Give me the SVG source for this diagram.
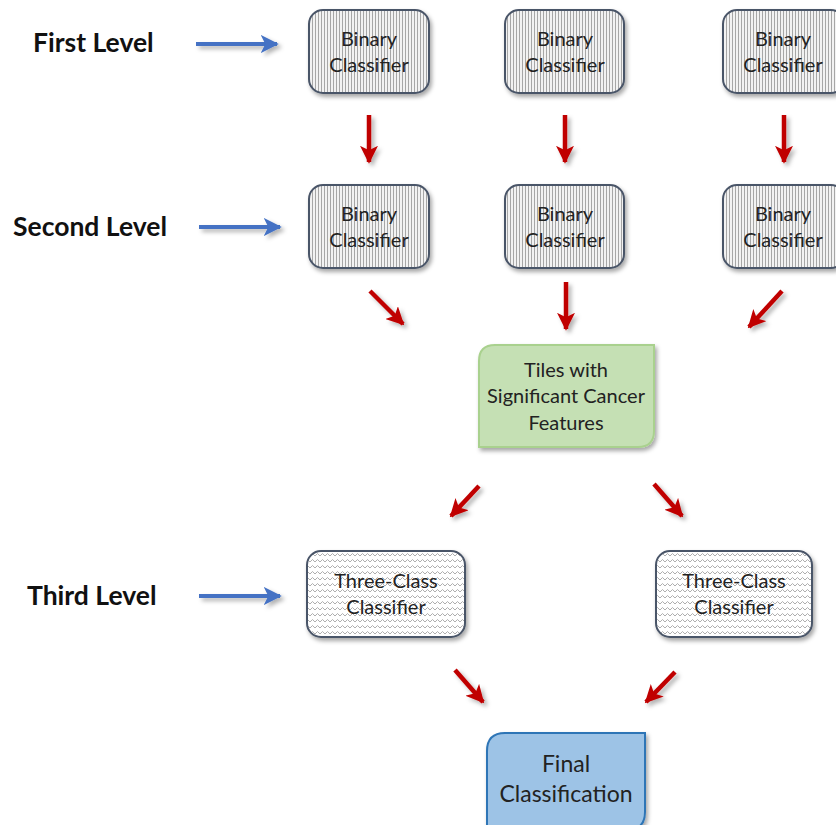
<svg xmlns="http://www.w3.org/2000/svg" width="836" height="825" viewBox="0 0 836 825">
  <style>
    .lvl { font-family: Lato, "Open Sans", "Liberation Sans", sans-serif; font-weight: bold; font-size: 26.5px; fill: #111; }
    .lbl { font-family: Lato, "Open Sans", "Liberation Sans", sans-serif; font-size: 20px; fill: #222; text-anchor: middle; }
    .big { font-size: 23px; }
    .bin { fill: url(#vlines); stroke: #4a5568; stroke-width: 2; filter: url(#shadow); }
    .tri { fill: url(#waves); stroke: #4a5568; stroke-width: 2; filter: url(#shadow); }
    .red { stroke: #c00000; stroke-width: 4.5; fill: none; marker-end: url(#redhead); filter: url(#ashadow); }
    .blue { stroke: #4472c4; stroke-width: 4; fill: none; marker-end: url(#bluehead); filter: url(#ashadow); }
  </style>
  <defs>
    <pattern id="vlines" width="3" height="10" patternUnits="userSpaceOnUse">
      <rect width="3" height="10" fill="#f2f2f2"/>
      <rect x="0" width="1" height="10" fill="#a6a6a6"/>
    </pattern>
    <pattern id="waves" width="10" height="6" patternUnits="userSpaceOnUse">
      <rect width="10" height="6" fill="#ffffff"/>
      <path d="M0 4 L2.5 1.5 L5 4 L7.5 1.5 L10 4" fill="none" stroke="#a6a6a6" stroke-width="0.9"/>
    </pattern>
    <filter id="shadow" x="-10%" y="-10%" width="125%" height="130%">
      <feDropShadow dx="2" dy="3" stdDeviation="2" flood-color="#000" flood-opacity="0.35"/>
    </filter>
    <!-- user-space region so straight horizontal/vertical lines still render -->
    <filter id="ashadow" filterUnits="userSpaceOnUse" x="0" y="0" width="836" height="825">
      <feDropShadow dx="3" dy="3" stdDeviation="2" flood-color="#000" flood-opacity="0.3"/>
    </filter>
    <marker id="redhead" viewBox="0 0 10 10" refX="9" refY="5" markerWidth="4" markerHeight="4" orient="auto" markerUnits="strokeWidth">
      <path d="M0 0 L10 5 L0 10 L2.5 5 Z" fill="#c00000"/>
    </marker>
    <marker id="bluehead" viewBox="0 0 10 10" refX="9" refY="5" markerWidth="4.5" markerHeight="4.5" orient="auto" markerUnits="strokeWidth">
      <path d="M0 0 L10 5 L0 10 L2.5 5 Z" fill="#4472c4"/>
    </marker>
  </defs>

  <!-- level labels -->
  <g id="labels">
    <text class="lvl" x="33" y="52">First Level</text>
    <text class="lvl" x="13" y="236">Second Level</text>
    <text class="lvl" x="27" y="605">Third Level</text>
  </g>

  <!-- first row of binary classifiers -->
  <g id="bin-1a">
    <rect class="bin" x="309" y="10" width="120" height="83" rx="14"/>
    <text class="lbl" x="369" y="46">Binary</text>
    <text class="lbl" x="369" y="72">Classifier</text>
  </g>
  <g id="bin-1b">
    <rect class="bin" x="505" y="10" width="119" height="83" rx="14"/>
    <text class="lbl" x="565" y="46">Binary</text>
    <text class="lbl" x="565" y="72">Classifier</text>
  </g>
  <g id="bin-1c">
    <rect class="bin" x="723" y="10" width="122" height="83" rx="14"/>
    <text class="lbl" x="783" y="46">Binary</text>
    <text class="lbl" x="783" y="72">Classifier</text>
  </g>

  <!-- second row of binary classifiers -->
  <g id="bin-2a">
    <rect class="bin" x="309" y="185" width="120" height="83" rx="14"/>
    <text class="lbl" x="369" y="221">Binary</text>
    <text class="lbl" x="369" y="247">Classifier</text>
  </g>
  <g id="bin-2b">
    <rect class="bin" x="505" y="185" width="119" height="83" rx="14"/>
    <text class="lbl" x="565" y="221">Binary</text>
    <text class="lbl" x="565" y="247">Classifier</text>
  </g>
  <g id="bin-2c">
    <rect class="bin" x="723" y="185" width="122" height="83" rx="14"/>
    <text class="lbl" x="783" y="221">Binary</text>
    <text class="lbl" x="783" y="247">Classifier</text>
  </g>

  <!-- selected tiles -->
  <g id="tiles">
    <path d="M495 345 H654 V431 Q654 447 638 447 H479 V361 Q479 345 495 345 Z" fill="#c5e0b4" stroke="#a9d18e" stroke-width="2" filter="url(#shadow)"/>
    <text class="lbl" x="566" y="377">Tiles with</text>
    <text class="lbl" x="566" y="403">Significant Cancer</text>
    <text class="lbl" x="566" y="430">Features</text>
  </g>

  <!-- three-class classifiers -->
  <g id="tri-a">
    <rect class="tri" x="307" y="551" width="158" height="86" rx="14"/>
    <text class="lbl" x="386" y="588">Three-Class</text>
    <text class="lbl" x="386" y="614">Classifier</text>
  </g>
  <g id="tri-b">
    <rect class="tri" x="656" y="551" width="156" height="86" rx="14"/>
    <text class="lbl" x="734" y="588">Three-Class</text>
    <text class="lbl" x="734" y="614">Classifier</text>
  </g>

  <!-- final result -->
  <g id="final">
    <path d="M505 733 H645 V812 Q645 830 627 830 H487 V751 Q487 733 505 733 Z" fill="#9dc3e6" stroke="#2e75b6" stroke-width="2" filter="url(#shadow)"/>
    <text class="lbl big" x="566" y="772">Final</text>
    <text class="lbl big" x="566" y="802">Classification</text>
  </g>

  <!-- connectors -->
  <g id="connectors">
    <line class="blue" x1="196" y1="44" x2="277" y2="44"/>
    <line class="blue" x1="199" y1="227" x2="280" y2="227"/>
    <line class="blue" x1="199" y1="596" x2="280" y2="596"/>

    <line class="red" x1="369" y1="115" x2="369" y2="162"/>
    <line class="red" x1="565" y1="115" x2="565" y2="162"/>
    <line class="red" x1="784" y1="115" x2="784" y2="162"/>

    <line class="red" x1="370" y1="291" x2="403" y2="324"/>
    <line class="red" x1="566" y1="282" x2="566" y2="329"/>
    <line class="red" x1="782" y1="291" x2="749" y2="327"/>

    <line class="red" x1="479" y1="486" x2="451" y2="516"/>
    <line class="red" x1="654" y1="484" x2="682" y2="516"/>

    <line class="red" x1="455" y1="670" x2="483" y2="702"/>
    <line class="red" x1="675" y1="672" x2="646" y2="702"/>
  </g>
</svg>
